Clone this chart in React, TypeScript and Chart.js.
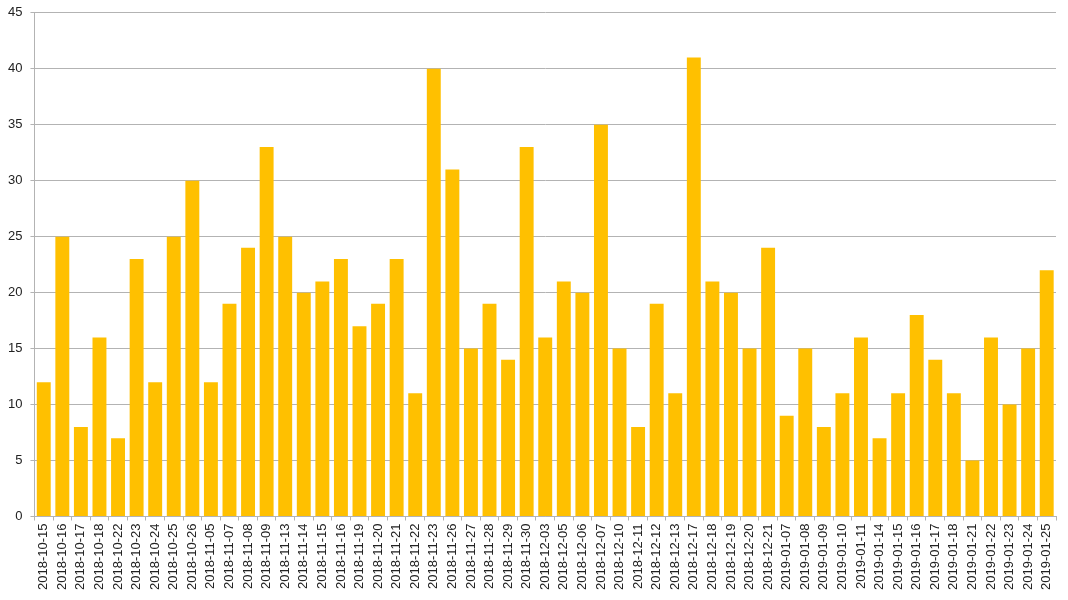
import React, { useEffect, useRef } from "react";
import { Chart, registerables } from "chart.js";

Chart.register(...registerables);

const dates: string[] = [
  "2018-10-15", "2018-10-16", "2018-10-17", "2018-10-18", "2018-10-22", "2018-10-23", "2018-10-24",
  "2018-10-25", "2018-10-26", "2018-11-05", "2018-11-07", "2018-11-08", "2018-11-09", "2018-11-13",
  "2018-11-14", "2018-11-15", "2018-11-16", "2018-11-19", "2018-11-20", "2018-11-21", "2018-11-22",
  "2018-11-23", "2018-11-26", "2018-11-27", "2018-11-28", "2018-11-29", "2018-11-30", "2018-12-03",
  "2018-12-05", "2018-12-06", "2018-12-07", "2018-12-10", "2018-12-11", "2018-12-12", "2018-12-13",
  "2018-12-17", "2018-12-18", "2018-12-19", "2018-12-20", "2018-12-21", "2019-01-07", "2019-01-08",
  "2019-01-09", "2019-01-10", "2019-01-11", "2019-01-14", "2019-01-15", "2019-01-16", "2019-01-17",
  "2019-01-18", "2019-01-21", "2019-01-22", "2019-01-23", "2019-01-24", "2019-01-25",
];

const counts: number[] = [
  12, 25, 8, 16, 7, 23, 12,
  25, 30, 12, 19, 24, 33, 25,
  20, 21, 23, 17, 19, 23, 11,
  40, 31, 15, 19, 14, 33, 16,
  21, 20, 35, 15, 8, 19, 11,
  41, 21, 20, 15, 24, 9, 15,
  8, 11, 16, 7, 11, 18, 14,
  11, 5, 16, 10, 15, 22,
];

const yMin = 0;
const yMax = 45;
const yStep = 5;

export default function App() {
  const ref = useRef<HTMLCanvasElement | null>(null);

  useEffect(() => {
    if (!ref.current) return;
    const font = { family: "'Liberation Sans', Arial, sans-serif", size: 13 };
    const chart = new Chart(ref.current, {
      type: "bar",
      data: {
        labels: dates,
        datasets: [
          {
            data: counts,
            backgroundColor: "#FFC000",
            borderWidth: 0,
            barPercentage: 0.75,
            categoryPercentage: 1,
          },
        ],
      },
      options: {
        animation: false,
        responsive: false,
        maintainAspectRatio: false,
        layout: { padding: { left: 0, top: 0, right: 12, bottom: 7 } },
        plugins: { legend: { display: false }, tooltip: { enabled: false } },
        scales: {
          x: {
            offset: true,
            grid: {
              display: true,
              drawOnChartArea: false,
              drawTicks: true,
              tickLength: 4,
              color: "#b3b3b3",
              offset: true,
            },
            border: { display: true, color: "#b3b3b3" },
            ticks: {
              autoSkip: false,
              minRotation: 90,
              maxRotation: 90,
              color: "#222",
              font,
              padding: 3,
            },
          },
          y: {
            min: yMin,
            max: yMax,
            grid: { color: "#b3b3b3", tickLength: 4 },
            border: { display: true, color: "#b3b3b3" },
            ticks: { stepSize: yStep, color: "#222", font, padding: 8 },
          },
        },
      },
    });
    return () => chart.destroy();
  }, []);

  return (
    <div style={{ position: "absolute", left: 0, top: -3, width: 1068, height: 603, background: "#fff" }}>
      <canvas ref={ref} width={1068} height={603} style={{ width: 1068, height: 603 }} />
    </div>
  );
}
